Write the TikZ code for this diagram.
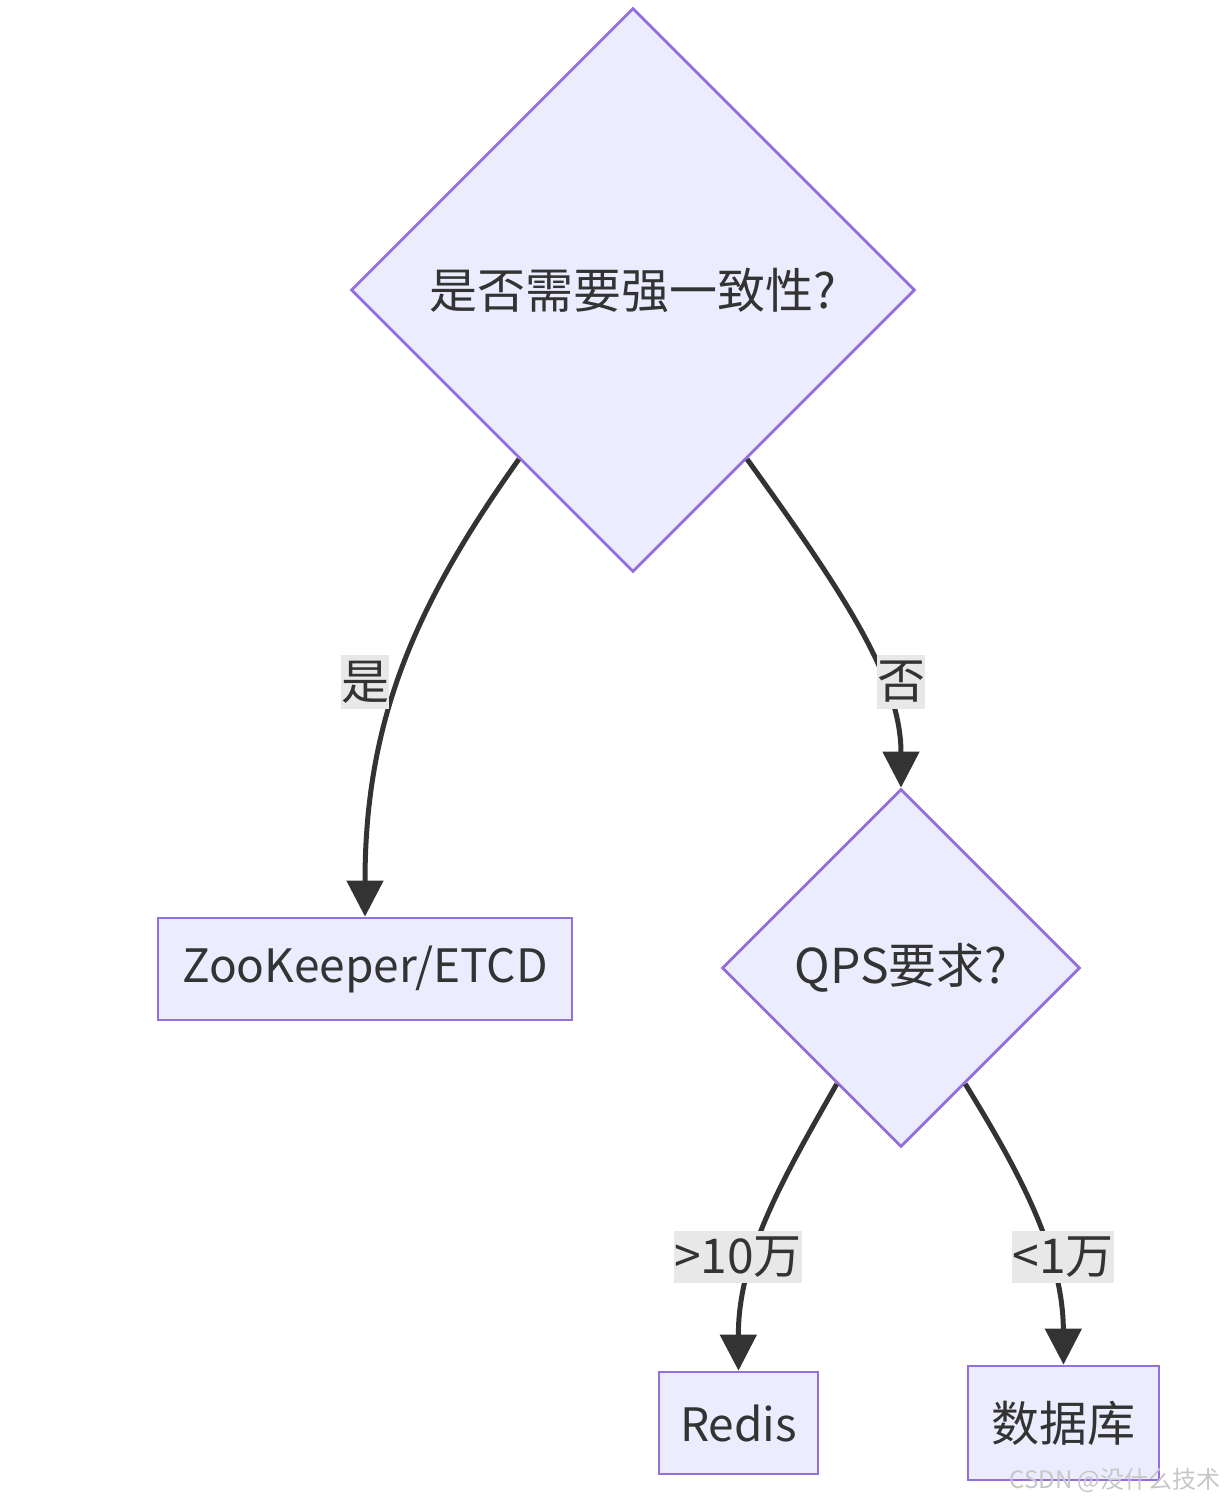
\documentclass[tikz,border=0pt]{standalone}
\usepackage{fontspec}
\setmainfont{Noto Sans CJK SC}
\usepackage{xcolor}
\usetikzlibrary{arrows.meta,positioning,shapes.geometric}
\definecolor{nodefill}{HTML}{ECECFF}
\definecolor{nodeline}{HTML}{9370DB}
\definecolor{ink}{HTML}{333333}
\definecolor{lblbg}{HTML}{E8E8E8}

\begin{document}
\begin{tikzpicture}[x=0.5pt,y=-0.5pt,font=\fontsize{24}{28}\selectfont,text=ink,
 box/.style={draw=nodeline,fill=nodefill,line width=1.4pt,inner sep=0pt},
 decision/.style={box,shape=diamond,aspect=1},
 lbl/.style={fill=lblbg,inner xsep=0pt,inner ysep=3pt},
 arrow/.style={-{Triangle[length=18pt,width=18pt]},line width=2.5pt,draw=ink}]
\useasboundingbox (0,0) rectangle (1224,1500);
% decisions
\node[decision,minimum width=282pt,minimum height=282pt] (strong) at (633,290) {是否需要强一致性?};
\node[decision,minimum width=179pt,minimum height=179pt] (qps) at (901,968) {QPS要求?};
% results
\node[box,minimum width=207pt,minimum height=51pt,font=\fontsize{23}{28}\selectfont] (zk) at (365,969) {ZooKeeper/ETCD};
\node[box,minimum width=79.5pt,minimum height=51pt,font=\fontsize{23}{28}\selectfont] (redis) at (738.5,1423) {Redis};
\node[box,minimum width=95.5pt,minimum height=57pt] (db) at (1063.5,1423) {数据库};
% edges
\draw[arrow] (strong.236) .. controls (415,605) and (365,720) .. (zk.north);
\draw[arrow] (strong.304) .. controls (845,595) and (901,680) .. (qps.north);
\draw[arrow] (qps.241) .. controls (785,1175) and (738,1255) .. (redis.north);
\draw[arrow] (qps.299) .. controls (1015,1165) and (1063,1250) .. (db.north);
% edge labels
\node[lbl] (yes) at (365,682) {是};
\node[lbl] (no) at (901,682) {否};
\node[lbl] (high) at (738,1257) {>10万};
\node[lbl] (low) at (1063,1257) {<1万};
% watermark
\node[anchor=east,text=black!22,font=\fontsize{12}{14}\selectfont,inner sep=0pt] (mark) at (1221,1480) {CSDN @没什么技术};
\end{tikzpicture}
\end{document}
